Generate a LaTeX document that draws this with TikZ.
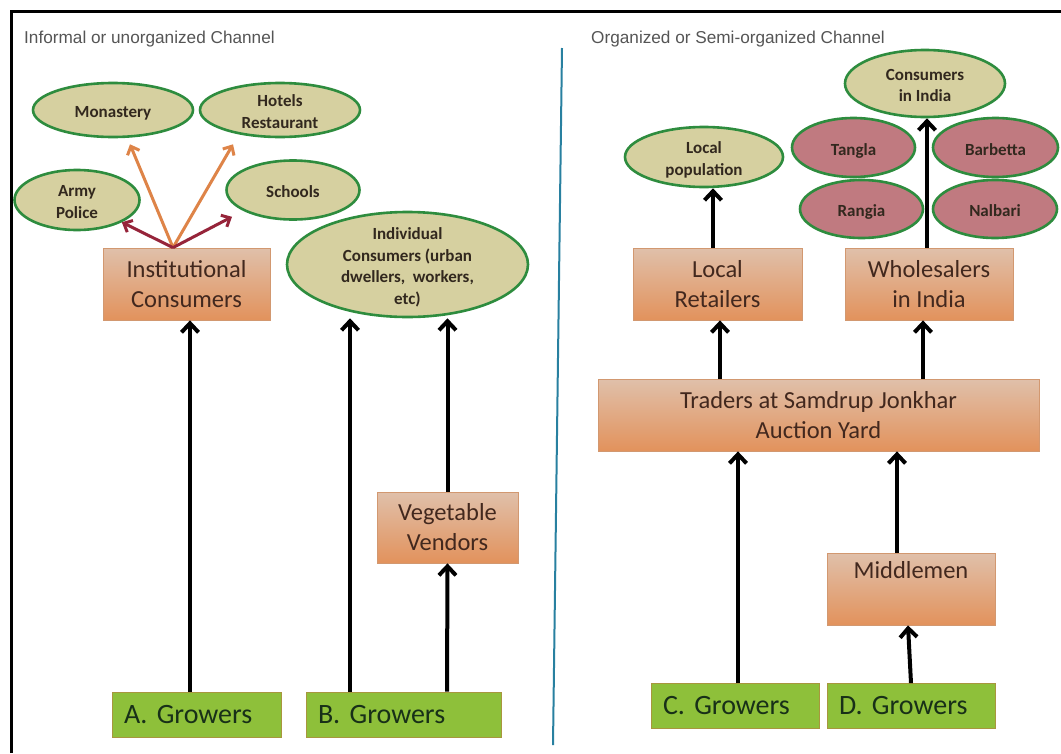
\documentclass[tikz,border=0pt]{standalone}
\usepackage{fontspec}
\setmainfont{Carlito}
\newfontfamily\titlefont{Liberation Sans}
\usetikzlibrary{arrows.meta,shapes.geometric}

\definecolor{boxtop}{RGB}{224,192,170}
\definecolor{boxbot}{RGB}{226,146,92}
\definecolor{boxedge}{RGB}{210,152,112}
\definecolor{boxtext}{RGB}{66,40,30}
\definecolor{growfill}{RGB}{142,192,58}
\definecolor{growedge}{RGB}{168,150,62}
\definecolor{growtext}{RGB}{24,48,24}
\definecolor{elltan}{RGB}{214,208,160}
\definecolor{ellmauve}{RGB}{192,122,128}
\definecolor{ellrim}{RGB}{46,140,62}
\definecolor{elltext}{RGB}{50,40,30}
\definecolor{orangearr}{RGB}{222,132,72}
\definecolor{redarr}{RGB}{150,36,58}
\definecolor{divider}{RGB}{40,128,160}
\definecolor{titlegray}{RGB}{85,85,85}

% text set inside an ellipse without widening the shape
\newcommand\ellbody[1]{\raisebox{-0.45em}[0pt][0pt]{\makebox[0pt]{\begin{tabular}{@{}c@{}}#1\end{tabular}}}}

\tikzset{
  box/.style={rectangle, top color=boxtop, bottom color=boxbot, draw=boxedge,
    line width=0.8pt, text=boxtext, font=\fontsize{24.5}{30}\selectfont,
    align=center, inner sep=0pt},
  growerbox/.style={rectangle, fill=growfill, draw=growedge, line width=0.8pt,
    text=growtext, font=\fontsize{28}{32}\selectfont\frenchspacing, align=left,
    inner xsep=12pt, inner ysep=0pt, minimum height=45pt},
  ell/.style={ellipse, fill=elltan, draw=ellrim, line width=2.6pt, text=elltext,
    font=\bfseries\fontsize{17}{21.5}\selectfont, inner sep=0pt},
  redell/.style={ell, fill=ellmauve},
  chantitle/.style={anchor=west, text=titlegray, inner sep=0pt,
    font=\titlefont\fontsize{17.2}{20}\selectfont},
  barr/.style={line width=4pt, -{Straight Barb[length=9pt,width=17pt]}},
  oarr/.style={line width=3pt, draw=orangearr, -{Straight Barb[length=7pt,width=13pt]}},
  rarr/.style={line width=3pt, draw=redarr, -{Straight Barb[length=7pt,width=13pt]}}
}

\begin{document}
\begin{tikzpicture}[x=1pt,y=-1pt]
\path[use as bounding box, fill=white] (0,0) rectangle (1061,753);

% frame and channel divider
\draw[line width=3pt] (11,753) -- (11,11) -- (1061,11);
\draw[divider, line width=2pt] (562,48) -- (553,745);

% ---- informal channel ----
\node[chantitle] (tl) at (24,39) {Informal or unorganized Channel};

\node[ell, minimum width=160pt, minimum height=54pt] (mon) at (113,110) {\ellbody{Monastery}};
\node[ell, minimum width=160pt, minimum height=54pt] (hot) at (280,110) {\ellbody{Hotels\\Restaurant}};
\node[ell, minimum width=125pt, minimum height=60pt] (army) at (77,200) {\ellbody{Army\\Police}};
\node[ell, minimum width=133pt, minimum height=59pt] (sch) at (293,190) {\ellbody{Schools}};
\node[ell, minimum width=241pt, minimum height=105pt] (indiv) at (407.5,264.5)
  {\ellbody{Individual\\Consumers (urban\\dwellers,\ \ workers,\\etc)}};

\node[box, minimum width=167pt, minimum height=72pt] (inst) at (186.5,284) {Institutional\\Consumers};
\node[box, minimum width=141pt, minimum height=71pt] (veg) at (447.5,527.5) {Vegetable\\Vendors};

\node[growerbox, text width=145pt] (agrow) at (196.5,714.5) {A.\ Growers};
\node[growerbox, text width=171pt] (bgrow) at (403.5,714.5) {B.\ Growers};

\coordinate (apex) at ([xshift=-13.5pt]inst.north);
\draw[oarr] (apex) -- ([xshift=17pt,yshift=-6pt]mon.south);
\draw[oarr] (apex) -- ([xshift=-47pt,yshift=-6pt]hot.south);
\draw[rarr] (apex) -- (army);
\draw[rarr] (apex) -- ([xshift=-61pt,yshift=4pt]sch.south);

\draw[barr] ([xshift=-6.5pt]agrow.north) -- ([xshift=3.5pt]inst.south);
\draw[barr] ([xshift=-53.5pt]bgrow.north) -- ([xshift=-57.5pt]indiv.south);
\draw[barr] ([xshift=43.5pt]bgrow.north) -- (veg.south);
\draw[barr] (veg.north) -- ([xshift=40pt]indiv.south);

% ---- organized channel ----
\node[chantitle] (tr) at (591,39) {Organized or Semi-organized Channel};

\node[ell, minimum width=160pt, minimum height=67pt] (cind) at (925,83.5) {\ellbody{Consumers\\in India}};
\node[ell, minimum width=158pt, minimum height=60pt] (locp) at (704,157) {\ellbody{Local\\population}};
\node[redell, minimum width=123pt, minimum height=59pt] (tang) at (853.5,147.5) {\ellbody{Tangla}};
\node[redell, minimum width=125pt, minimum height=59pt] (barb) at (995.5,147.5) {\ellbody{Barbetta}};
\node[redell, minimum width=123pt, minimum height=58pt] (rang) at (861.5,209) {\ellbody{Rangia}};
\node[redell, minimum width=124pt, minimum height=58pt] (nalb) at (995,209) {\ellbody{Nalbari}};

\node[box, minimum width=169pt, minimum height=72pt] (locr) at (717.5,284) {Local\\Retailers};
\node[box, minimum width=168pt, minimum height=72pt] (whol) at (929,284) {Wholesalers\\in India};
\node[box, minimum width=441pt, minimum height=72pt] (trad) at (818.5,415) {Traders at Samdrup Jonkhar\\Auction Yard};
\node[box, minimum width=168pt, minimum height=72pt, text height=17pt, text depth=39pt] (mid) at (911,589) {Middlemen};

\node[growerbox, text width=144pt] (cgrow) at (735,706) {C.\ Growers};
\node[growerbox, text width=144pt] (dgrow) at (911,706) {D.\ Growers};

\draw[barr] ([xshift=3pt]cgrow.north) -- ([xshift=-80.5pt]trad.south);
\draw[barr] (dgrow.north) -- ([xshift=-3pt]mid.south);
\draw[barr] ([xshift=-14pt]mid.north) -- ([xshift=78.5pt]trad.south);
\draw[barr] ([xshift=-98.5pt]trad.north) -- ([xshift=2.5pt]locr.south);
\draw[barr] ([xshift=104.5pt]trad.north) -- ([xshift=-6pt]whol.south);
\draw[barr] ([xshift=-4.5pt]locr.north) -- ([xshift=9pt]locp.south);
\draw[barr] ([xshift=-2pt]whol.north) -- ([xshift=2pt]cind.south);
\end{tikzpicture}
\end{document}
